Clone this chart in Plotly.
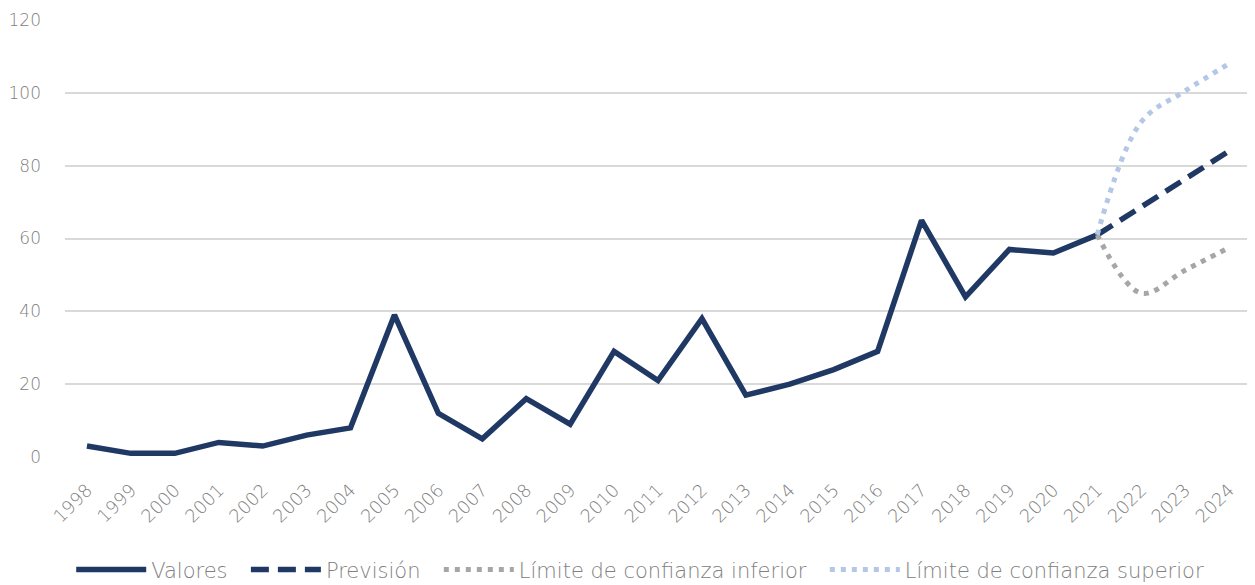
import plotly.graph_objects as go

years = [str(y) for y in range(1998, 2025)]
valores = [3, 1, 1, 4, 3, 6, 8, 39, 12, 5, 16, 9, 29, 21, 38, 17, 20, 24, 29, 65, 44, 57, 56, 61]
fc_years = ["2021", "2022", "2023", "2024"]
prevision = [61, 68.7, 76.3, 84]
lim_inf = [61, 45, 51.3, 57.5]
lim_sup = [61, 92, 100.5, 108]
names = ["Valores", "Previsión", "Límite de confianza inferior", "Límite de confianza superior"]

navy = "#1f3864"
font_family = "'DejaVu Sans', sans-serif"
txt = "#808080"
pad = "\u00a0\u00a0"

fig = go.Figure()
fig.add_trace(go.Scatter(x=years[:len(valores)], y=valores, mode="lines", name=names[0] + pad,
                         line=dict(color=navy, width=5.5)))
fig.add_trace(go.Scatter(x=fc_years, y=prevision, mode="lines", name=names[1] + pad,
                         line=dict(color=navy, width=5.5, dash="18px,9px")))
fig.add_trace(go.Scatter(x=fc_years, y=lim_inf, mode="lines", name=names[2] + pad,
                         line=dict(color="#a6a6a6", width=5, dash="5px,6px", shape="spline")))
fig.add_trace(go.Scatter(x=fc_years, y=lim_sup, mode="lines", name=names[3],
                         line=dict(color="#b4c7e7", width=5, dash="5px,6px", shape="spline")))

fig.update_layout(
    width=1247, height=610,
    margin=dict(l=57, r=4, t=12, b=161),
    paper_bgcolor="white", plot_bgcolor="white",
    font=dict(family=font_family, color=txt, size=18, weight=200),
    showlegend=True,
    legend=dict(orientation="h", x=0.485, xanchor="center", y=-0.258, yanchor="middle",
                font=dict(size=21, color=txt, weight=200), itemwidth=70),
    xaxis=dict(type="category", categoryorder="array", categoryarray=years,
               tickangle=-45, showgrid=False, zeroline=False, showline=False, automargin=False,
               tickfont=dict(size=18, color=txt, weight=200), ticklabelstandoff=18,
               range=[-0.5, len(years) - 0.5]),
    yaxis=dict(range=[0, 120], dtick=20, showgrid=True, gridcolor="#d9d9d9", gridwidth=2,
               zeroline=False, showline=False, automargin=False,
               tickfont=dict(size=17, color=txt, weight=200), ticklabelstandoff=23),
)

fig.write_html("out.html")
